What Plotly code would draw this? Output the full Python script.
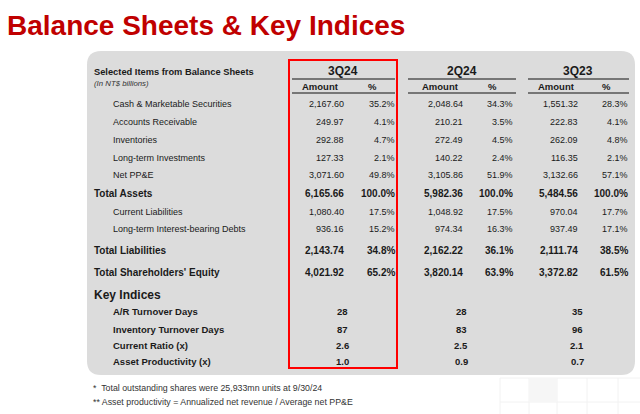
import plotly.graph_objects as go

# ---------------- data ----------------
title_text = "Balance Sheets & Key Indices"
periods = ["3Q24", "2Q24", "3Q23"]

bs_labels = ["Cash & Marketable Securities", "Accounts Receivable", "Inventories",
             "Long-term Investments", "Net PP&E", "Total Assets", "Current Liabilities",
             "Long-term Interest-bearing Debts", "Total Liabilities",
             "Total Shareholders' Equity"]
bs_bold = [False, False, False, False, False, True, False, False, True, True]

amt_3q24 = [2167.60, 249.97, 292.88, 127.33, 3071.60, 6165.66, 1080.40, 936.16, 2143.74, 4021.92]
pct_3q24 = [35.2, 4.1, 4.7, 2.1, 49.8, 100.0, 17.5, 15.2, 34.8, 65.2]
amt_2q24 = [2048.64, 210.21, 272.49, 140.22, 3105.86, 5982.36, 1048.92, 974.34, 2162.22, 3820.14]
pct_2q24 = [34.3, 3.5, 4.5, 2.4, 51.9, 100.0, 17.5, 16.3, 36.1, 63.9]
amt_3q23 = [1551.32, 222.83, 262.09, 116.35, 3132.66, 5484.56, 970.04, 937.49, 2111.74, 3372.82]
pct_3q23 = [28.3, 4.1, 4.8, 2.1, 57.1, 100.0, 17.7, 17.1, 38.5, 61.5]

ki_labels = ["A/R Turnover Days", "Inventory Turnover Days", "Current Ratio (x)",
             "Asset Productivity (x)"]
ki_3q24 = ["28", "87", "2.6", "1.0"]
ki_2q24 = ["28", "83", "2.5", "0.9"]
ki_3q23 = ["35", "96", "2.1", "0.7"]

footnotes = ["*  Total outstanding shares were 25,933mn units at 9/30/24",
             "** Asset productivity = Annualized net revenue / Average net PP&E"]

# ---------------- layout helpers ----------------
W, H = 640, 414
BODY = "Liberation Sans, Arial, sans-serif"
TXT = "#1a1a1a"

bs_rows_y = [104, 122, 140, 157.5, 175, 193.5, 211.5, 229, 250, 272]
ki_rows_y = [311.5, 329, 345.5, 361]

# column geometry: (amount right edge, pct right edge, header centre, line x0, line x1, key-index centre)
cols = [(344, 395, 343, 292, 395, 342),
        (463, 513, 462, 408, 516, 461),
        (578, 628, 578, 528, 629, 577)]
amount_hdr_x = [320, 440, 556]
pct_hdr_x = [372, 492, 606]

amts = [amt_3q24, amt_2q24, amt_3q23]
pcts = [pct_3q24, pct_2q24, pct_3q23]
kis = [ki_3q24, ki_2q24, ki_3q23]

fig = go.Figure()
fig.add_trace(go.Scatter(x=[0, W], y=[0, H], mode="markers",
                         marker=dict(opacity=0), hoverinfo="skip", showlegend=False))

ann = []


def txt(x, y, s, size, bold=False, xanchor="left", color=TXT, family=BODY, italic=False):
    if bold:
        s = "<b>" + s + "</b>"
    if italic:
        s = "<i>" + s + "</i>"
    ann.append(dict(x=x, y=y, xref="x", yref="y", text=s, showarrow=False,
                    xanchor=xanchor, yanchor="middle",
                    font=dict(size=size, color=color, family=family),
                    borderpad=0, borderwidth=0))


shapes = []

# faint background squares (bottom right)
for xv in [500, 529, 557, 587, 618]:
    shapes.append(dict(type="line", xref="x", yref="y", x0=xv, x1=xv, y0=378, y1=414,
                       line=dict(color="#f2f2f2", width=1), layer="below"))
for yv in [378, 402]:
    shapes.append(dict(type="line", xref="x", yref="y", x0=500, x1=640, y0=yv, y1=yv,
                       line=dict(color="#f2f2f2", width=1), layer="below"))
shapes.append(dict(type="rect", xref="x", yref="y", x0=529, x1=557, y0=378, y1=402,
                   fillcolor="#f6f6f6", line=dict(width=0), layer="below"))

# rounded grey panel
x0, x1, y0, y1, r = 87, 635, 51, 375, 14
path = (f"M {x0+r},{y0} L {x1-r},{y0} Q {x1},{y0} {x1},{y0+r} L {x1},{y1-r} "
        f"Q {x1},{y1} {x1-r},{y1} L {x0+r},{y1} Q {x0},{y1} {x0},{y1-r} "
        f"L {x0},{y0+r} Q {x0},{y0} {x0+r},{y0} Z")
shapes.append(dict(type="path", xref="x", yref="y", path=path,
                   fillcolor="#dcdcdc", line=dict(width=0), layer="below"))

# header lines
for c in cols:
    for yv in [79, 93]:
        shapes.append(dict(type="line", xref="x", yref="y", x0=c[3], x1=c[4], y0=yv, y1=yv,
                           line=dict(color="#555555", width=1.5)))

# red highlight rectangle
shapes.append(dict(type="rect", xref="x", yref="y", x0=289, x1=397, y0=60, y1=368,
                   line=dict(color="#ff0000", width=2), fillcolor="rgba(0,0,0,0)"))

# title
txt(7, 25, title_text, 28, bold=True, color="#c00000")

# table header
txt(94, 72, "Selected Items from Balance Sheets", 9.3, bold=True)
txt(94, 83.5, "(In NT$ billions)", 7.8, italic=True, color="#333333")
for i, p in enumerate(periods):
    txt(cols[i][2], 71, p, 12, bold=True, xanchor="center")
    txt(amount_hdr_x[i], 86.5, "Amount", 9.5, bold=True, xanchor="center")
    txt(pct_hdr_x[i], 86.5, "%", 9.5, bold=True, xanchor="center")

# balance sheet rows
for j, lab in enumerate(bs_labels):
    yv = bs_rows_y[j]
    b = bs_bold[j]
    txt(94 if b else 113, yv, lab, 10 if b else 9, bold=b)
    for i in range(3):
        txt(cols[i][0], yv, f"{amts[i][j]:,.2f}", 10 if b else 9, bold=b, xanchor="right")
        txt(cols[i][1], yv, f"{pcts[i][j]:.1f}%", 10 if b else 9, bold=b, xanchor="right")

# key indices
txt(94, 295, "Key Indices", 12, bold=True)
for j, lab in enumerate(ki_labels):
    yv = ki_rows_y[j]
    txt(113, yv, lab, 9.5, bold=True)
    for i in range(3):
        txt(cols[i][5], yv, kis[i][j], 9.5, bold=True, xanchor="center")

# footnotes
txt(93, 387.5, footnotes[0], 8.8, color="#333333")
txt(93, 402, footnotes[1], 8.8, color="#333333")

fig.update_layout(
    width=W, height=H,
    margin=dict(l=0, r=0, t=0, b=0),
    paper_bgcolor="white", plot_bgcolor="white",
    xaxis=dict(range=[0, W], visible=False, fixedrange=True),
    yaxis=dict(range=[H, 0], visible=False, fixedrange=True),
    shapes=shapes, annotations=ann, showlegend=False,
)

fig.write_html("out.html", config={"displayModeBar": False},
               post_script="document.body.style.margin='0';document.body.style.overflow='hidden';")
